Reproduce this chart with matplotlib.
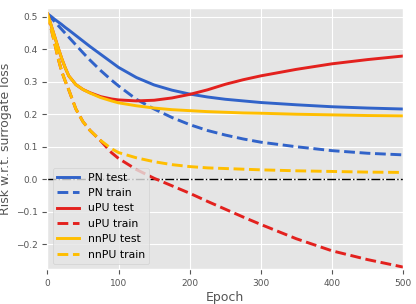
import matplotlib
matplotlib.use('Agg')
import matplotlib.pyplot as plt
import numpy as np

epochs = [0, 5, 10, 15, 20, 25, 30, 40, 50, 60, 75, 90, 100, 125, 150, 175,
          200, 225, 250, 275, 300, 350, 400, 450, 500]

pn_test   = [0.509, 0.501, 0.492, 0.484, 0.476, 0.467, 0.459, 0.442, 0.425, 0.408,
             0.384, 0.360, 0.344, 0.313, 0.290, 0.274, 0.262, 0.253, 0.246, 0.241,
             0.236, 0.229, 0.223, 0.219, 0.216]
pn_train  = [0.509, 0.497, 0.485, 0.473, 0.461, 0.449, 0.437, 0.413, 0.389, 0.366,
             0.334, 0.305, 0.287, 0.246, 0.216, 0.190, 0.168, 0.150, 0.136, 0.124,
             0.114, 0.100, 0.088, 0.080, 0.075]
upu_test  = [0.509, 0.475, 0.440, 0.405, 0.372, 0.343, 0.318, 0.291, 0.276, 0.266,
             0.254, 0.247, 0.244, 0.241, 0.243, 0.250, 0.261, 0.275, 0.292, 0.306,
             0.318, 0.338, 0.355, 0.368, 0.379]
upu_train = [0.509, 0.465, 0.420, 0.372, 0.332, 0.302, 0.275, 0.216, 0.177, 0.150,
             0.118, 0.082, 0.064, 0.030, 0.003, -0.020, -0.043, -0.068, -0.092, -0.116,
             -0.139, -0.183, -0.220, -0.247, -0.270]
nnpu_test = [0.509, 0.475, 0.440, 0.405, 0.372, 0.343, 0.318, 0.291, 0.276, 0.265,
             0.251, 0.241, 0.235, 0.226, 0.219, 0.214, 0.211, 0.208, 0.206, 0.204,
             0.203, 0.200, 0.198, 0.196, 0.195]
nnpu_train= [0.509, 0.465, 0.420, 0.372, 0.332, 0.302, 0.275, 0.216, 0.177, 0.150,
             0.119, 0.094, 0.082, 0.066, 0.054, 0.045, 0.039, 0.035, 0.033, 0.031,
             0.029, 0.026, 0.024, 0.022, 0.021]

blue, red, yellow = '#3163c9', '#e3211e', '#ffbe00'

plt.style.use('ggplot')
fig = plt.figure(figsize=(4.16, 3.04), dpi=100)
ax = fig.add_axes([0.114, 0.114, 0.855, 0.859])

ax.axhline(0, color='black', ls='-.', lw=1)
ax.plot(epochs, pn_test,    color=blue,   lw=2.1, label='PN test')
ax.plot(epochs, pn_train,   color=blue,   lw=2.1, ls='--', label='PN train')
ax.plot(epochs, upu_test,   color=red,    lw=2.1, label='uPU test')
ax.plot(epochs, upu_train,  color=red,    lw=2.1, ls='--', label='uPU train')
ax.plot(epochs, nnpu_test,  color=yellow, lw=2.1, label='nnPU test')
ax.plot(epochs, nnpu_train, color=yellow, lw=2.1, ls='--', label='nnPU train')

ax.set_xlim(0, 500)
ax.set_ylim(-0.277, 0.526)
ax.set_xticks([0, 100, 200, 300, 400, 500])
ax.set_yticks([-0.2, -0.1, 0.0, 0.1, 0.2, 0.3, 0.4, 0.5])
ax.tick_params(labelsize=6.5, colors='#555555')
ax.set_xlabel('Epoch', fontsize=9, color='#555555', labelpad=2)
ax.set_ylabel('Risk w.r.t. surrogate loss', fontsize=9, color='#555555', labelpad=3)
ax.legend(loc='lower left', fontsize=7.8)

fig.savefig('out.png', dpi=100)
